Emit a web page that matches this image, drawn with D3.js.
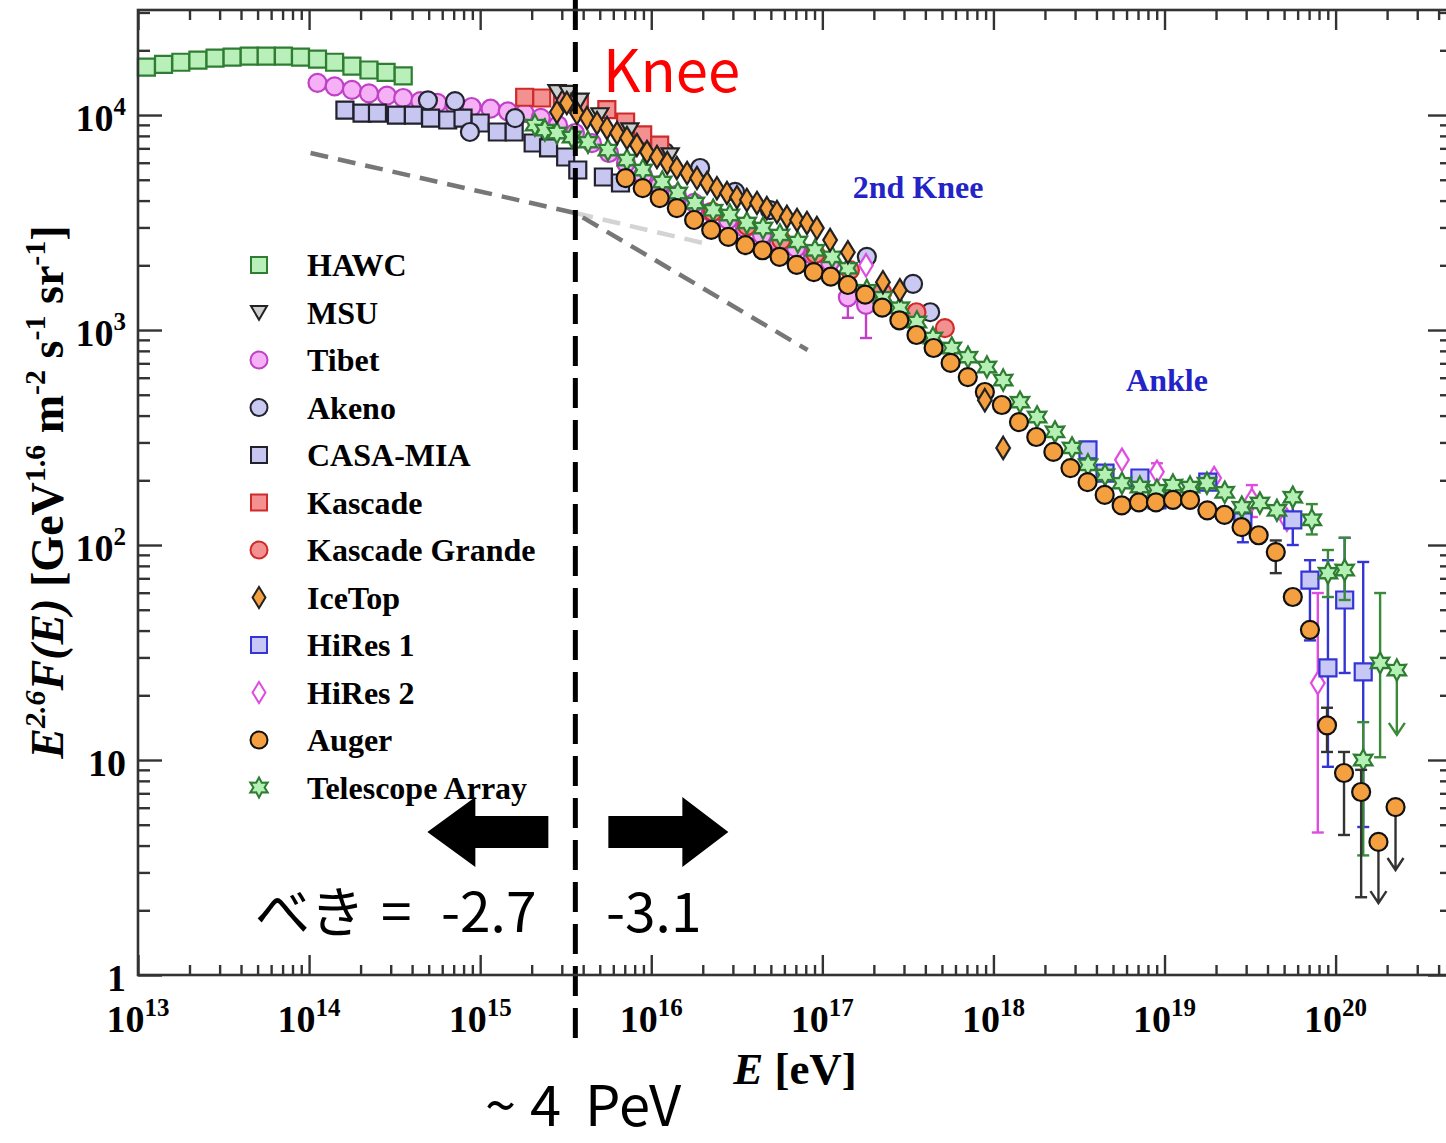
<!DOCTYPE html>
<html>
<head>
<meta charset="utf-8">
<title>Cosmic ray spectrum</title>
<script src="https://d3js.org/d3.v7.min.js"></script>
<style>
  body { margin: 0; background: #fff; }
  svg { display: block; }
</style>
</head>
<body>
<div id="plot"></div>
<script>
// ---- data (E in eV, flux = E^2.6 F(E)) ----
const hawcE = [1.12e13, 1.41e13, 1.78e13, 2.24e13, 2.82e13, 3.55e13, 4.47e13, 5.62e13, 7.08e13, 8.91e13, 1.12e14, 1.41e14, 1.78e14, 2.24e14, 2.82e14, 3.55e14];
const hawcF = [1.67e4, 1.72e4, 1.76e4, 1.80e4, 1.84e4, 1.86e4, 1.88e4, 1.88e4, 1.88e4, 1.86e4, 1.82e4, 1.76e4, 1.69e4, 1.62e4, 1.58e4, 1.52e4];

const msuE = [2.81e15, 3.26e15, 3.83e15, 5.01e15, 7.5e15, 1.29e16];
const msuF = [1.28e4, 1.27e4, 1.17e4, 1.0e4, 8.51e3, 6.51e3];

const tibetE = [1.12e14, 1.41e14, 1.78e14, 2.24e14, 2.85e14, 3.55e14, 4.47e14, 5.62e14, 7.08e14, 8.91e14, 1.15e15, 1.45e15, 1.82e15, 2.26e15, 2.85e15, 3.58e15, 4.5e15, 5.66e15, 7.11e15, 8.93e15, 1.12e16, 1.41e16, 1.78e16, 2.23e16, 2.81e16, 3.53e16, 4.44e16, 5.57e16, 7.02e16, 8.81e16, 1.11e17, 1.41e17, 1.8e17];
const tibetF = [1.41e4, 1.36e4, 1.31e4, 1.26e4, 1.23e4, 1.20e4, 1.16e4, 1.14e4, 1.11e4, 1.09e4, 1.07e4, 1.04e4, 1.02e4, 9.7e3, 8.98e3, 8.25e3, 7.4e3, 6.66e3, 5.98e3, 5.26e3, 4.72e3, 4.25e3, 3.9e3, 3.54e3, 3.25e3, 2.98e3, 2.77e3, 2.56e3, 2.41e3, 2.23e3, 2.07e3, 1.42e3, 1.31e3];
const tibetErr = [{E: 1.41e17, lo: 1.14e3, hi: 1.62e3}, {E: 1.8e17, lo: 918, hi: 1.5e3}];

const akenoE = [4.95e14, 7.13e14, 8.71e14, 1.6e15, 1.2e16, 1.93e16, 3.09e16, 4.94e16, 1.82e17, 3.39e17, 4.27e17];
const akenoF = [1.17e4, 1.16e4, 8.34e3, 9.68e3, 6.73e3, 5.67e3, 4.39e3, 3.61e3, 2.19e3, 1.64e3, 1.21e3];

const casaE = [1.62e14, 2.04e14, 2.51e14, 3.24e14, 4.07e14, 5.13e14, 6.46e14, 7.94e14, 1.0e15, 1.26e15, 1.58e15, 2.04e15, 2.51e15, 3.16e15, 3.72e15, 5.25e15, 6.61e15];
const casaF = [1.055e4, 1.02e4, 1.02e4, 1.0e4, 1.0e4, 9.68e3, 9.48e3, 9.68e3, 9.18e3, 8.34e3, 8.34e3, 7.41e3, 7.03e3, 6.38e3, 5.55e3, 5.15e3, 4.83e3];

const kascadeE = [1.82e15, 2.29e15, 3.02e15, 3.8e15, 5.5e15, 7.08e15, 8.91e15, 1.12e16];
const kascadeF = [1.21e4, 1.2e4, 1.17e4, 1.14e4, 1.06e4, 9.28e3, 8.08e3, 7.25e3];

const grandeE = [2.29e16, 3.63e16, 5.75e16, 9.12e16, 1.45e17, 2.24e17, 3.55e17, 5.2e17];
const grandeF = [3.54e3, 3.05e3, 2.62e3, 2.26e3, 1.9e3, 1.5e3, 1.21e3, 1.02e3];

const icetopE = [2.81e15, 3.21e15, 3.68e15, 4.21e15, 4.82e15, 5.51e15, 6.31e15, 7.21e15, 8.24e15, 9.44e15, 1.08e16, 1.24e16, 1.41e16, 1.62e16, 1.85e16, 2.12e16, 2.42e16, 2.77e16, 3.17e16, 3.62e16, 4.15e16, 4.74e16, 5.43e16, 6.21e16, 7.11e16, 8.13e16, 9.29e16, 1.11e17, 1.41e17, 2.26e17, 2.84e17, 8.91e17, 1.14e18];
const icetopF = [1.033e4, 1.137e4, 1.021e4, 9.68e3, 9.18e3, 8.71e3, 8.25e3, 7.82e3, 7.25e3, 6.73e3, 6.38e3, 5.98e3, 5.67e3, 5.37e3, 5.09e3, 4.83e3, 4.57e3, 4.34e3, 4.15e3, 4.03e3, 3.9e3, 3.69e3, 3.54e3, 3.36e3, 3.25e3, 3.15e3, 2.98e3, 2.62e3, 2.3e3, 1.67e3, 1.53e3, 472, 283];

const hires1E = [3.57e18, 4.49e18, 7.18e18, 9.03e18, 1.79e19, 2.87e19, 5.62e19, 7.08e19, 9.02e19, 1.13e20, 1.45e20];
const hires1F = [277, 216, 205, 162, 196, 128, 131, 68.7, 26.8, 55.5, 25.7];
const hires1Err = [{E: 2.87e19, lo: 103, hi: 155}, {E: 5.62e19, lo: 100, hi: 162}, {E: 7.08e19, lo: 36, hi: 85}, {E: 9.02e19, lo: 9.3, hi: 85}, {E: 1.13e20, lo: 25.4, hi: 108}, {E: 1.45e20, lo: 4.88, hi: 83.4}];

const hires2E = [1.8e17, 5.64e18, 9.03e18, 1.95e19, 3.24e19, 5.19e19, 7.87e19];
const hires2F = [2.0e3, 249, 219, 205, 162, 131, 22.8];
const hires2Err = [{E: 9.03e18, lo: 190, hi: 240}, {E: 3.24e19, lo: 135, hi: 190}, {E: 7.87e19, lo: 4.6, hi: 59.8}];

const augerE = [7.08e15, 8.91e15, 1.12e16, 1.41e16, 1.78e16, 2.24e16, 2.82e16, 3.55e16, 4.47e16, 5.62e16, 7.08e16, 8.91e16, 1.12e17, 1.41e17, 1.78e17, 2.24e17, 2.82e17, 3.55e17, 4.47e17, 5.62e17, 7.08e17, 8.91e17, 1.12e18, 1.41e18, 1.78e18, 2.24e18, 2.82e18, 3.55e18, 4.47e18, 5.62e18, 7.08e18, 8.91e18, 1.12e19, 1.41e19, 1.78e19, 2.24e19, 2.82e19, 3.55e19, 4.47e19, 5.62e19, 7.08e19, 8.91e19, 1.12e20, 1.41e20, 1.78e20, 2.24e20];
const augerF = [5.09e3, 4.57e3, 4.11e3, 3.69e3, 3.25e3, 2.92e3, 2.71e3, 2.48e3, 2.35e3, 2.19e3, 2.01e3, 1.86e3, 1.77e3, 1.62e3, 1.46e3, 1.27e3, 1.11e3, 948, 825, 703, 604, 515, 448, 373, 318, 271, 228, 196, 171, 153, 158, 158, 162, 162, 145, 138, 121, 111, 92.7, 57.3, 40.3, 14.5, 8.7, 7.1, 4.16, 6.04];
const augerErr = [{E: 4.47e19, lo: 74, hi: 105}, {E: 8.91e19, lo: 10.9, hi: 17.5}, {E: 1.12e20, lo: 4.48, hi: 10.9}, {E: 1.41e20, lo: 2.3, hi: 9.0}];
const augerLimit = [{E: 1.78e20, to: 2.16}, {E: 2.24e20, to: 3.08}];

const taE = [2.09e15, 2.39e15, 2.81e15, 3.44e15, 4.27e15, 5.58e15, 7.21e15, 8.93e15, 1.16e16, 1.43e16, 1.8e16, 2.3e16, 2.88e16, 3.62e16, 4.5e16, 5.65e16, 7.19e16, 9.06e16, 1.14e17, 1.41e17, 1.82e17, 2.26e17, 2.84e17, 3.57e17, 4.43e17, 5.71e17, 7.1e17, 9.16e17, 1.14e18, 1.43e18, 1.8e18, 2.29e18, 2.88e18, 3.57e18, 4.49e18, 5.64e18, 7.18e18, 9.03e18, 1.12e19, 1.41e19, 1.77e19, 2.25e19, 2.83e19, 3.61e19, 4.54e19, 5.62e19, 7.26e19, 9.02e19, 1.13e20, 1.45e20, 1.82e20, 2.28e20];
const taF = [8.98e3, 8.51e3, 8.25e3, 7.9e3, 7.48e3, 6.87e3, 6.18e3, 5.55e3, 4.88e3, 4.34e3, 3.9e3, 3.61e3, 3.43e3, 3.15e3, 2.98e3, 2.77e3, 2.57e3, 2.35e3, 2.19e3, 1.94e3, 1.53e3, 1.42e3, 1.27e3, 1.09e3, 918, 825, 748, 673, 585, 462, 394, 336, 283, 236, 212, 194, 186, 180, 190, 186, 194, 176, 150, 157, 145, 167, 131, 74, 76.5, 10, 28.3, 26.2];
const taErr = [{E: 7.26e19, lo: 112, hi: 155}, {E: 9.02e19, lo: 57.3, hi: 94.8}, {E: 1.13e20, lo: 55.5, hi: 108}, {E: 1.45e20, lo: 3.6, hi: 15}, {E: 1.82e20, lo: 10.3, hi: 59.8}];
const taLimit = [{E: 2.28e20, to: 13.1}];

// knee and power-law guide lines
const kneeE = 3.6e15;
const guideLow = [[1.02e14, 6655], [3.6e15, 3500]];
const guideHigh = [[3.6e15, 3500], [8.2e16, 807]];
const guideExt = [[3.6e15, 3500], [2.26e16, 2485]];

const xMajor = [1e13, 1e14, 1e15, 1e16, 1e17, 1e18, 1e19, 1e20];
const yMajor = [1, 10, 100, 1000, 1e4];
const legendNames = ["HAWC", "MSU", "Tibet", "Akeno", "CASA-MIA", "Kascade", "Kascade Grande", "IceTop", "HiRes 1", "HiRes 2", "Auger", "Telescope Array"];

// ---- styles per series ----
const series = {
  "HAWC":            {E: hawcE, F: hawcF, shape: "square", fill: "#b9f0b9", stroke: "#2e7d32"},
  "MSU":             {E: msuE, F: msuF, shape: "triangle", fill: "#cfcfcf", stroke: "#222"},
  "Tibet":           {E: tibetE, F: tibetF, shape: "circle", fill: "#f6b0f6", stroke: "#c040c8", err: tibetErr},
  "Akeno":           {E: akenoE, F: akenoF, shape: "circle", fill: "#c9c9f2", stroke: "#23232e"},
  "CASA-MIA":        {E: casaE, F: casaF, shape: "square", fill: "#c6c6f0", stroke: "#22222e"},
  "Kascade":         {E: kascadeE, F: kascadeF, shape: "square", fill: "#f39090", stroke: "#d02a2a"},
  "Kascade Grande":  {E: grandeE, F: grandeF, shape: "circle", fill: "#f39090", stroke: "#d02a2a"},
  "IceTop":          {E: icetopE, F: icetopF, shape: "diamond", fill: "#f5a040", stroke: "#222"},
  "HiRes 1":         {E: hires1E, F: hires1F, shape: "square", fill: "#c8c8f6", stroke: "#3535d5", err: hires1Err},
  "HiRes 2":         {E: hires2E, F: hires2F, shape: "diamond", fill: "#ffffff", stroke: "#e04ce0", err: hires2Err},
  "Auger":           {E: augerE, F: augerF, shape: "circle", fill: "#f5a040", stroke: "#111", err: augerErr, limit: augerLimit, errColor: "#333"},
  "Telescope Array": {E: taE, F: taF, shape: "star", fill: "#b4f0b4", stroke: "#2e7d32", err: taErr, limit: taLimit, errColor: "#3a8a3a"}
};
const drawOrder = ["HAWC", "Tibet", "CASA-MIA", "Akeno", "Kascade", "Kascade Grande", "MSU", "HiRes 2", "HiRes 1", "Telescope Array", "Auger", "IceTop"];

const width = 1446, height = 1143;
const plotLeft = 138, plotRight = 1452, plotTop = 10, plotBottom = 975;

const x = d3.scaleLog().domain([1e13, 4.79e20]).range([plotLeft, plotRight]);
const y = d3.scaleLog().domain([1, 3.08e4]).range([plotBottom, plotTop]);

const svg = d3.select("#plot").append("svg")
  .attr("width", width)
  .attr("height", height)
  .style("font-family", "'Liberation Serif', 'Times New Roman', serif");

const jp = "'Noto Sans CJK JP', 'Noto Sans', sans-serif";

// marker shapes
function shapePath(shape, s) {
  const h = s / 2;
  if (shape === "square") return `M${-h},${-h}h${s}v${s}h${-s}Z`;
  if (shape === "circle") return `M${h},0A${h},${h} 0 1,1 ${-h},0A${h},${h} 0 1,1 ${h},0Z`;
  if (shape === "diamond") return `M0,${-s * 0.62}L${s * 0.38},0L0,${s * 0.62}L${-s * 0.38},0Z`;
  if (shape === "triangle") return `M${-h},${-s * 0.4}L${h},${-s * 0.4}L0,${s * 0.45}Z`;
  // six-pointed star
  const pts = d3.range(12).map(k => {
    const a = -Math.PI / 2 + k * Math.PI / 6;
    const r = k % 2 === 0 ? h * 1.12 : h * 0.62;
    return [r * Math.cos(a), r * Math.sin(a)];
  });
  return "M" + pts.map(p => p.join(",")).join("L") + "Z";
}
const markerSize = {square: 17, circle: 18, diamond: 18, triangle: 17, star: 19};

// ---- guide lines ----
const line = d3.line().x(d => x(d[0])).y(d => y(d[1]));
svg.append("path").attr("d", line(guideExt)).attr("fill", "none")
  .attr("stroke", "#d4d4d4").attr("stroke-width", 4.5).attr("stroke-dasharray", "18,10");
svg.append("path").attr("d", line(guideLow.concat(guideHigh.slice(1)))).attr("fill", "none")
  .attr("stroke", "#777").attr("stroke-width", 4.5).attr("stroke-dasharray", "18,10");

// ---- error bars, limits, markers ----
const plot = svg.append("g");
drawOrder.forEach(name => {
  const s = series[name];
  const g = plot.append("g");
  const ec = s.errColor || s.stroke;
  (s.err || []).forEach(e => {
    const px = x(e.E);
    g.append("line").attr("x1", px).attr("x2", px).attr("y1", y(e.lo)).attr("y2", y(e.hi))
      .attr("stroke", ec).attr("stroke-width", 2.4);
    [e.lo, e.hi].forEach(v => g.append("line").attr("x1", px - 6).attr("x2", px + 6)
      .attr("y1", y(v)).attr("y2", y(v)).attr("stroke", ec).attr("stroke-width", 2.4));
  });
  (s.limit || []).forEach(l => {
    const i = s.E.indexOf(l.E);
    const px = x(l.E), y0 = y(s.F[i]), y1 = y(l.to);
    g.append("path").attr("d", `M${px},${y0}V${y1}M${px - 8},${y1 - 12}L${px},${y1}L${px + 8},${y1 - 12}`)
      .attr("fill", "none").attr("stroke", ec).attr("stroke-width", 2.4);
  });
  g.selectAll("path.mk")
    .data(s.E.map((e, i) => ({E: e, F: s.F[i]})))
    .enter().append("path")
    .attr("class", "mk")
    .attr("d", shapePath(s.shape, markerSize[s.shape]))
    .attr("transform", d => `translate(${x(d.E)},${y(d.F)})`)
    .attr("fill", s.fill)
    .attr("stroke", s.stroke)
    .attr("stroke-width", 2.2);
});

// ---- knee line ----
svg.append("line")
  .attr("x1", x(kneeE)).attr("x2", x(kneeE)).attr("y1", 0).attr("y2", 1038)
  .attr("stroke", "#000").attr("stroke-width", 5).attr("stroke-dasharray", "30,12");

// ---- axes (ticks inside on all four sides) ----
const xMinor = [], yMinor = [];
xMajor.forEach(v => { for (let m = 2; m < 10; m++) if (v * m < x.domain()[1]) xMinor.push(v * m); });
yMajor.forEach(v => { for (let m = 2; m < 10; m++) if (v * m < y.domain()[1]) yMinor.push(v * m); });

function ticks(gen, vals, size, tr) {
  const g = svg.append("g").attr("transform", tr)
    .call(gen.tickValues(vals).tickSize(size).tickSizeOuter(0).tickFormat(""));
  g.select(".domain").remove();
  g.selectAll("line").attr("stroke", "#333").attr("stroke-width", 2.4);
}
ticks(d3.axisBottom(x), xMajor, -20, `translate(0,${plotBottom})`);
ticks(d3.axisBottom(x), xMinor, -10, `translate(0,${plotBottom})`);
ticks(d3.axisTop(x), xMajor, -20, `translate(0,${plotTop})`);
ticks(d3.axisTop(x), xMinor, -10, `translate(0,${plotTop})`);
ticks(d3.axisLeft(y), yMajor, -24, `translate(${plotLeft},0)`);
ticks(d3.axisLeft(y), yMinor, -12, `translate(${plotLeft},0)`);
ticks(d3.axisRight(y), yMajor, -24, `translate(${plotRight},0)`);
ticks(d3.axisRight(y), yMinor, -12, `translate(${plotRight},0)`);

svg.append("rect").attr("x", plotLeft).attr("y", plotTop)
  .attr("width", plotRight - plotLeft).attr("height", plotBottom - plotTop)
  .attr("fill", "none").attr("stroke", "#333").attr("stroke-width", 2.6);

// tick labels
xMajor.forEach(v => {
  const t = svg.append("text").attr("x", x(v)).attr("y", 1032)
    .attr("text-anchor", "middle").attr("font-weight", "bold").attr("font-size", 38);
  t.append("tspan").text("10");
  t.append("tspan").attr("font-size", 25).attr("dy", -16).text(Math.round(Math.log10(v)));
});
yMajor.forEach(v => {
  const p = Math.round(Math.log10(v));
  const t = svg.append("text").attr("x", 126).attr("y", y(v) + 16)
    .attr("text-anchor", "end").attr("font-weight", "bold").attr("font-size", 38);
  if (p === 0) t.text("1");
  else if (p === 1) t.text("10");
  else {
    t.append("tspan").text("10");
    t.append("tspan").attr("font-size", 25).attr("dy", -16).text(p);
  }
});

// axis titles
const xt = svg.append("text").attr("x", 795).attr("y", 1084)
  .attr("text-anchor", "middle").attr("font-weight", "bold").attr("font-size", 45);
xt.append("tspan").attr("font-style", "italic").text("E");
xt.append("tspan").text(" [eV]");

const yt = svg.append("text").attr("transform", "translate(63,492) rotate(-90)")
  .attr("text-anchor", "middle").attr("font-weight", "bold").attr("font-size", 46);
yt.append("tspan").attr("font-style", "italic").text("E");
yt.append("tspan").attr("font-style", "italic").attr("font-size", 30).attr("dy", -18).text("2.6");
yt.append("tspan").attr("font-style", "italic").attr("dy", 18).text("F(E)");
yt.append("tspan").text(" [GeV");
yt.append("tspan").attr("font-size", 30).attr("dy", -18).text("1.6");
yt.append("tspan").attr("dy", 18).text(" m");
yt.append("tspan").attr("font-size", 30).attr("dy", -18).text("-2");
yt.append("tspan").attr("dy", 18).text(" s");
yt.append("tspan").attr("font-size", 30).attr("dy", -18).text("-1");
yt.append("tspan").attr("dy", 18).text(" sr");
yt.append("tspan").attr("font-size", 30).attr("dy", -18).text("-1");
yt.append("tspan").attr("dy", 18).text("]");

// ---- legend ----
const legend = svg.append("g");
legendNames.forEach((name, i) => {
  const s = series[name];
  const ly = 265 + i * 47.5;
  legend.append("path")
    .attr("d", shapePath(s.shape, markerSize[s.shape] - 1))
    .attr("transform", `translate(259,${ly})`)
    .attr("fill", s.fill).attr("stroke", s.stroke).attr("stroke-width", 2);
  legend.append("text").attr("x", 307).attr("y", ly + 11)
    .attr("font-weight", "bold").attr("font-size", 32).text(name);
});

// ---- annotations ----
svg.append("text").attr("x", 603).attr("y", 92).attr("fill", "#ff0000")
  .style("font-family", jp).attr("font-size", 58).text("Knee");
svg.append("text").attr("x", 918).attr("y", 198).attr("text-anchor", "middle")
  .attr("fill", "#2323c8").attr("font-weight", "bold").attr("font-size", 32).text("2nd Knee");
svg.append("text").attr("x", 1167).attr("y", 391).attr("text-anchor", "middle")
  .attr("fill", "#2323c8").attr("font-weight", "bold").attr("font-size", 32).text("Ankle");

const kx = x(kneeE);
svg.append("path")
  .attr("d", `M${kx - 27},816H${kx - 100}V797L${kx - 148},832L${kx - 100},867V848H${kx - 27}Z`)
  .attr("fill", "#000");
svg.append("path")
  .attr("d", `M${kx + 33},816H${kx + 107}V797L${kx + 153},832L${kx + 107},867V848H${kx + 33}Z`)
  .attr("fill", "#000");

const slopeLeft = svg.append("text").attr("y", 932)
  .style("font-family", jp).attr("font-size", 55);
slopeLeft.append("tspan").attr("x", 255).text("べき");
slopeLeft.append("tspan").attr("x", 381).text("=");
slopeLeft.append("tspan").attr("x", 441).text("-2.7");
svg.append("text").attr("x", 606).attr("y", 932)
  .style("font-family", jp).attr("font-size", 55).text("-3.1");
const pev = svg.append("text").attr("y", 1126)
  .style("font-family", jp).attr("font-size", 56);
pev.append("tspan").attr("x", 485).text("~");
pev.append("tspan").attr("x", 530).text("4");
pev.append("tspan").attr("x", 585).text("PeV");
</script>
</body>
</html>
